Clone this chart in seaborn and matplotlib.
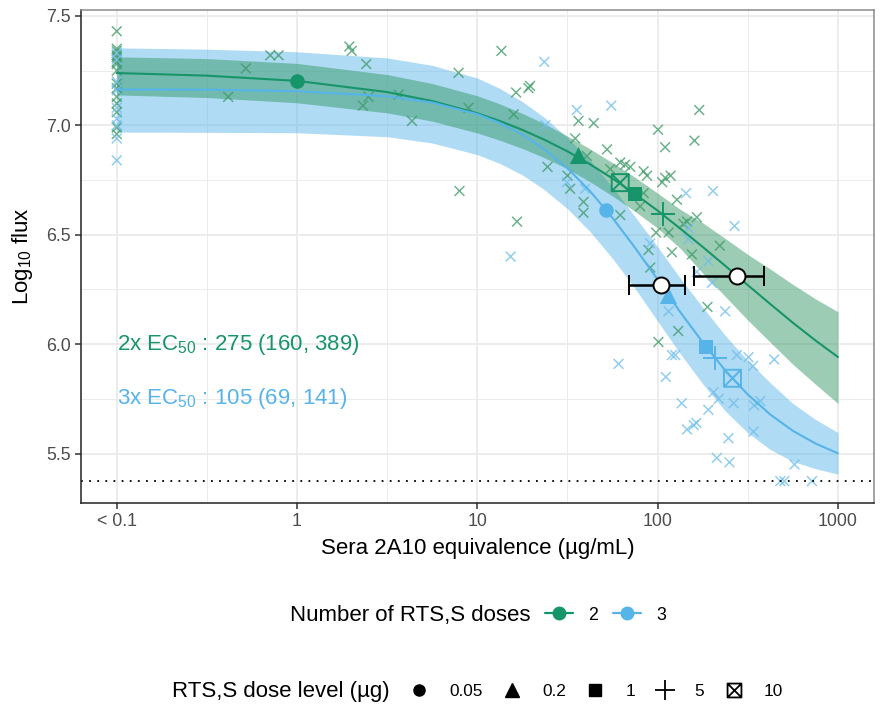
import numpy as np
import pandas as pd
import matplotlib
matplotlib.use("Agg")
import matplotlib.pyplot as plt
import seaborn as sns
from matplotlib.path import Path
from matplotlib.lines import Line2D

# ---------------- data ----------------
groups = ["2", "3"]
dose_levels = ["0.05", "0.2", "1", "5", "10"]

# individual observations, 2 doses
dose2_obs_x = [0.1] * 15 + [
    0.415, 0.52, 0.71, 0.79, 1.95, 2.01, 2.42, 2.49, 2.32, 3.66, 4.34, 7.87, 8.93, 7.96,
    13.6, 16.4, 19.2, 19.6, 15.9, 16.6, 24.5, 31.6, 32.7, 38.8, 38.8, 36.4, 44.2, 34.9,
    40.5, 52.4, 54.6, 62, 66, 70.5, 62, 80, 83.6, 87.3, 83.6, 100.5, 110, 160, 170, 106,
    110, 118, 128, 139, 145.6, 165, 98, 115, 89, 120, 91, 155, 221, 189, 101, 130]
dose2_obs_y = [7.43, 7.35, 7.34, 7.32, 7.31, 7.29, 7.28, 7.25, 7.19, 7.17, 7.13, 7.10,
               7.06, 6.99, 6.96] + [
    7.13, 7.26, 7.32, 7.32, 7.36, 7.34, 7.28, 7.13, 7.09, 7.14, 7.02, 7.24, 7.08, 6.70,
    7.34, 7.15, 7.17, 7.18, 7.05, 6.56, 6.81, 6.77, 6.71, 6.65, 6.60, 7.02, 7.01, 6.94,
    6.86, 6.89, 6.80, 6.83, 6.82, 6.81, 6.59, 6.63, 6.79, 6.77, 6.69, 6.98, 6.90, 6.93,
    7.07, 6.74, 6.76, 6.77, 6.66, 6.55, 6.56, 6.58, 6.51, 6.51, 6.43, 6.42, 6.35, 6.41,
    6.45, 6.17, 6.01, 6.06]

# individual observations, 3 doses
dose3_obs_x = [0.1] * 9 + [
    23.5, 23.8, 35.6, 55.3, 31.4, 39.6, 15.3, 91, 143.6, 202.8, 267, 148, 148, 165, 191,
    200, 115, 237, 60.7, 111, 120, 125.3, 136, 145.6, 158.5, 164, 191, 204, 218, 264, 343,
    371, 275, 319, 338, 443, 340, 247, 213, 250, 574, 479, 504, 718]
dose3_obs_y = [7.33, 7.30, 7.20, 7.16, 7.08, 7.03, 7.00, 6.94, 6.84] + [
    7.29, 7.00, 7.07, 7.09, 6.74, 6.71, 6.40, 6.46, 6.69, 6.70, 6.54, 6.53, 6.48, 6.33,
    6.38, 6.28, 6.15, 6.15, 5.91, 5.85, 5.95, 5.95, 5.73, 5.61, 5.63, 5.64, 5.70, 5.78,
    5.75, 5.73, 5.72, 5.74, 5.95, 5.94, 5.90, 5.93, 5.60, 5.57, 5.48, 5.46, 5.45, 5.374,
    5.374, 5.374]

# group means by dose level (order of dose_levels)
dose2_mean_x = [1.0, 36.3, 75.3, 107, 62.0]
dose2_mean_y = [7.202, 6.864, 6.686, 6.595, 6.738]
dose3_mean_x = [51.9, 114.8, 185, 208.7, 260]
dose3_mean_y = [6.613, 6.224, 5.988, 5.935, 5.844]

# fitted curves and confidence bands
curve_x = [0.1, 0.316, 1, 3.16, 5.62, 10, 13.3, 17.8, 23.7, 31.6, 42.2, 56.2, 75, 100,
           133, 178, 237, 316, 422, 562, 750, 1000]
dose2_fit = [7.239, 7.227, 7.203, 7.152, 7.111, 7.055, 7.020, 6.979, 6.933, 6.881, 6.822,
             6.757, 6.686, 6.610, 6.529, 6.444, 6.358, 6.270, 6.183, 6.098, 6.017, 5.941]
dose2_hi = [7.313, 7.305, 7.283, 7.232, 7.191, 7.135, 7.098, 7.054, 7.006, 6.951, 6.892,
            6.829, 6.762, 6.690, 6.617, 6.554, 6.483, 6.410, 6.343, 6.273, 6.207, 6.148]
dose2_lo = [7.139, 7.127, 7.103, 7.057, 7.019, 6.965, 6.932, 6.894, 6.851, 6.801, 6.742,
            6.677, 6.606, 6.530, 6.439, 6.324, 6.218, 6.110, 6.008, 5.908, 5.817, 5.729]
dose3_fit = [7.164, 7.163, 7.156, 7.133, 7.104, 7.051, 7.011, 6.958, 6.889, 6.804, 6.699,
             6.577, 6.440, 6.295, 6.148, 6.008, 5.880, 5.770, 5.678, 5.604, 5.546, 5.501]
dose3_hi = [7.354, 7.348, 7.336, 7.308, 7.274, 7.216, 7.169, 7.108, 7.034, 6.944, 6.839,
            6.717, 6.582, 6.445, 6.303, 6.168, 6.040, 5.925, 5.823, 5.729, 5.656, 5.596]
dose3_lo = [6.969, 6.968, 6.966, 6.948, 6.919, 6.866, 6.826, 6.773, 6.704, 6.619, 6.514,
            6.392, 6.254, 6.105, 5.958, 5.818, 5.695, 5.595, 5.518, 5.464, 5.431, 5.406]

# EC50 estimates (95% CI)
ec50 = [275, 105]
ec50_lo = [160, 69]
ec50_hi = [389, 141]
ec50_y = [6.311, 6.270]

lod = 5.375

x_ticks = [0.1, 1, 10, 100, 1000]
x_ticklabels = ["< 0.1", "1", "10", "100", "1000"]
y_ticks = [5.5, 6.0, 6.5, 7.0, 7.5]
y_ticklabels = ["5.5", "6.0", "6.5", "7.0", "7.5"]

# ---------------- style ----------------
GREEN = "#17956A"
BLUE = "#56B4E9"
palette = {"2": GREEN, "3": BLUE}

sns.set_theme(style="white")
plt.rcParams["font.family"] = ["Liberation Sans", "DejaVu Sans"]
plt.rcParams["text.color"] = "black"
plt.rcParams["mathtext.fontset"] = "custom"
plt.rcParams["mathtext.rm"] = "Liberation Sans"
plt.rcParams["mathtext.it"] = "Liberation Sans:italic"
plt.rcParams["mathtext.default"] = "regular"

fig = plt.figure(figsize=(8.8, 7.1), dpi=100)
ax = fig.add_axes([80.7 / 880, 1 - 503 / 710, (874 - 80.7) / 880, (503 - 10) / 710])
ax.set_xscale("log")

# bands
ax.fill_between(curve_x, dose3_lo, dose3_hi, color=BLUE, alpha=0.47, lw=0, zorder=1)
ax.fill_between(curve_x, dose2_lo, dose2_hi, color="#2F9460", alpha=0.47, lw=0, zorder=1.1)

# observations
obs = pd.concat([
    pd.DataFrame({"x": dose2_obs_x, "y": dose2_obs_y, "group": "2"}),
    pd.DataFrame({"x": dose3_obs_x, "y": dose3_obs_y, "group": "3"}),
])
obs_pal = {"2": "#3E9A68", "3": "#6FBDEB"}
sns.scatterplot(data=obs, x="x", y="y", hue="group", palette=obs_pal, marker="x",
                s=50, linewidth=1.1, alpha=0.75, legend=False, ax=ax, zorder=2)

# curves
curves = pd.concat([
    pd.DataFrame({"x": curve_x, "y": dose2_fit, "group": "2"}),
    pd.DataFrame({"x": curve_x, "y": dose3_fit, "group": "3"}),
])
sns.lineplot(data=curves, x="x", y="y", hue="group", palette=palette, linewidth=1.5,
             legend=False, ax=ax, zorder=3)

# LOD line
ax.axhline(lod, color="black", lw=1.3, ls=(0, (1, 3.5)), zorder=2.5)

# boxed-x marker
boxx = Path([(-1, -1), (1, -1), (1, 1), (-1, 1), (-1, -1), (-1, -1), (1, 1), (-1, 1), (1, -1)],
            [Path.MOVETO, Path.LINETO, Path.LINETO, Path.LINETO, Path.CLOSEPOLY,
             Path.MOVETO, Path.LINETO, Path.MOVETO, Path.LINETO])
mk = {"0.05": ("o", 110), "0.2": ("^", 150), "1": ("s", 110), "5": ("+", 320), "10": (boxx, 150)}

for g, mx, my in [("2", dose2_mean_x, dose2_mean_y), ("3", dose3_mean_x, dose3_mean_y)]:
    for lvl, xv, yv in zip(dose_levels, mx, my):
        m, s = mk[lvl]
        if lvl in ("5", "10"):
            ax.scatter([xv], [yv], marker=m, s=s, facecolors="none" if lvl == "10" else palette[g],
                       edgecolors=palette[g], linewidths=1.4, zorder=4)
        else:
            sns.scatterplot(x=[xv], y=[yv], marker=m, s=s, color=palette[g], linewidth=0,
                            ax=ax, zorder=4, legend=False)

# EC50 with CI
for xv, lo, hi, yv in zip(ec50, ec50_lo, ec50_hi, ec50_y):
    ax.errorbar([xv], [yv], xerr=[[xv - lo], [hi - xv]], fmt="o", mfc="white", mec="black",
                mew=1.4, ms=11.5, ecolor="black", elinewidth=1.8, capsize=7.5, capthick=1.8,
                zorder=5)

# annotations
ax.text(0.1, 6.0, r"2x EC$_{50}$ : 275 (160, 389)", color=GREEN, fontsize=16,
        ha="left", va="center", zorder=6)
ax.text(0.1, 5.75, r"3x EC$_{50}$ : 105 (69, 141)", color=BLUE, fontsize=16,
        ha="left", va="center", zorder=6)

# axes
ax.set_xlim(10 ** -1.2, 10 ** 3.2)
ax.set_ylim(5.274, 7.527)
ax.set_xticks(x_ticks)
ax.set_xticklabels(x_ticklabels)
ax.set_xticks([10 ** -0.5, 10 ** 0.5, 10 ** 1.5, 10 ** 2.5], minor=True)
ax.set_yticks(y_ticks)
ax.set_yticklabels(y_ticklabels)
ax.set_yticks([5.75, 6.25, 6.75, 7.25], minor=True)
ax.grid(True, which="major", color="#EBEBEB", lw=1.3, zorder=0)
ax.grid(True, which="minor", color="#EBEBEB", lw=0.7, zorder=0)
ax.set_axisbelow(True)
ax.tick_params(axis="both", which="major", length=4, width=1.1, color="#333333",
               labelsize=12.8, labelcolor="#4D4D4D", pad=3, direction="out",
               bottom=True, left=True)
ax.tick_params(axis="both", which="minor", length=0)
for sp in ["top", "right"]:
    ax.spines[sp].set_color("#8A8A8A")
    ax.spines[sp].set_linewidth(1.1)
for sp in ["left", "bottom"]:
    ax.spines[sp].set_color("#222222")
    ax.spines[sp].set_linewidth(1.1)

ax.set_xlabel("Sera 2A10 equivalence (µg/mL)", fontsize=16, color="black", labelpad=6)
ax.set_ylabel(r"Log$_{10}$ flux", fontsize=16, color="black", labelpad=8)

# legends
fig.text(530 / 880, 1 - 615 / 710, "Number of RTS,S doses", ha="right", va="center",
         fontsize=16, color="black")
h1 = [Line2D([0], [0], color=palette[g], lw=1.6, marker="o", ms=9) for g in groups]
fig.legend(h1, groups, loc="center left", bbox_to_anchor=(545 / 880, 1 - 615 / 710),
           ncol=2, frameon=False, fontsize=12.8, handlelength=1.57, handletextpad=0.84,
           columnspacing=0.87, borderpad=0, borderaxespad=0, labelcolor="black")

fig.text(390 / 880, 1 - 691 / 710, "RTS,S dose level (µg)", ha="right", va="center",
         fontsize=16, color="black")
h2 = [Line2D([0], [0], ls="none", marker="o", color="black", ms=8),
      Line2D([0], [0], ls="none", marker="^", color="black", ms=10),
      Line2D([0], [0], ls="none", marker="s", color="black", ms=8.5),
      Line2D([0], [0], ls="none", marker="+", color="black", ms=14, mew=1.3),
      Line2D([0], [0], ls="none", marker=boxx, mfc="none", mec="black", ms=10, mew=1.3)]
fig.legend(h2, dose_levels, loc="center left", bbox_to_anchor=(409 / 880, 1 - 691 / 710),
           ncol=5, frameon=False, fontsize=12.4, handlelength=1.2, handletextpad=1.15,
           columnspacing=1.1, borderpad=0, borderaxespad=0, labelcolor="black")

fig.savefig("out.png", dpi=100)
